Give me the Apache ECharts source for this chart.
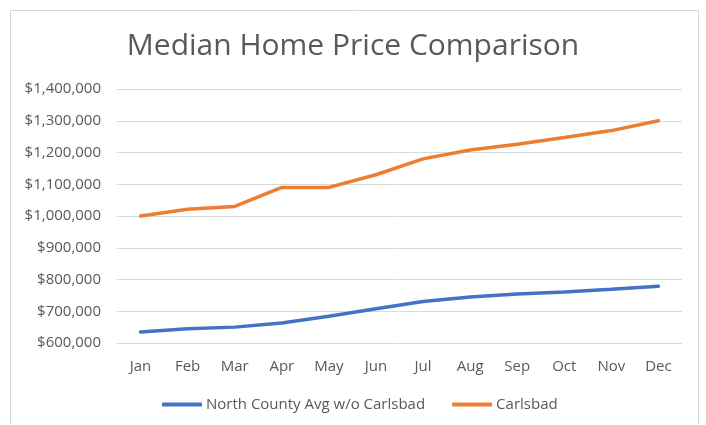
<!DOCTYPE html>
<html>
<head>
<meta charset="utf-8">
<script src="https://cdn.jsdelivr.net/npm/echarts@6/dist/echarts.min.js"></script>
<style>
html, body { margin: 0; padding: 0; background: #fff; }
#main { width: 706px; height: 425px; }
</style>
</head>
<body>
<div id="main"></div>
<script>
var months = ['Jan', 'Feb', 'Mar', 'Apr', 'May', 'Jun', 'Jul', 'Aug', 'Sep', 'Oct', 'Nov', 'Dec'];
var northCounty = [635000, 645000, 650000, 663000, 684000, 708000, 731000, 745000, 754000, 761000, 769000, 779000];
var carlsbad = [1000000, 1021000, 1030000, 1090000, 1090000, 1130000, 1180000, 1208000, 1226000, 1247000, 1269000, 1300000];

var myChart = echarts.init(document.getElementById('main'));
var font = 'Open Sans';
option = {
	animation: false,
	textStyle: { fontFamily: font },
	graphic: [{
		type: 'rect',
		shape: { x: 10.5, y: 10.5, width: 688, height: 420 },
		style: { fill: 'none', stroke: '#d9d9d9', lineWidth: 1 }
	}],
	title: {
		text: 'Median Home Price Comparison',
		left: 'center',
		top: 26,
		textStyle: { fontFamily: font, fontSize: 30, fontWeight: 'normal', color: '#595959' }
	},
	legend: {
		top: 392,
		left: 157,
		icon: 'roundRect',
		itemWidth: 40,
		itemHeight: 4,
		itemGap: 27,
		textStyle: { fontFamily: font, fontSize: 15, color: '#595959', padding: [0, 0, 0, -1] }
	},
	grid: { left: 117, right: 24, top: 89, bottom: 82 },
	xAxis: {
		type: 'category',
		data: months,
		boundaryGap: true,
		axisLine: { lineStyle: { color: '#d9d9d9' } },
		axisTick: { show: false },
		axisLabel: { color: '#595959', fontSize: 15, margin: 16 }
	},
	yAxis: {
		type: 'value',
		min: 600000,
		max: 1400000,
		interval: 100000,
		axisLine: { show: false },
		axisTick: { show: false },
		splitLine: { lineStyle: { color: '#d9d9d9' } },
		axisLabel: {
			color: '#595959', fontSize: 15, margin: 16,
			formatter: function (v) { return '$' + v.toLocaleString('en-US'); }
		}
	},
	series: [{
		name: 'North County Avg w/o Carlsbad',
		type: 'line',
		data: northCounty,
		symbol: 'none',
		color: '#4472C4',
		lineStyle: { width: 3.5, color: '#4472C4', cap: 'round' }
	}, {
		name: 'Carlsbad',
		type: 'line',
		data: carlsbad,
		symbol: 'none',
		color: '#ED7D31',
		lineStyle: { width: 3.5, color: '#ED7D31', cap: 'round' }
	}]
};
myChart.setOption(option);
window.onresize = myChart.resize;
</script>
</body>
</html>
